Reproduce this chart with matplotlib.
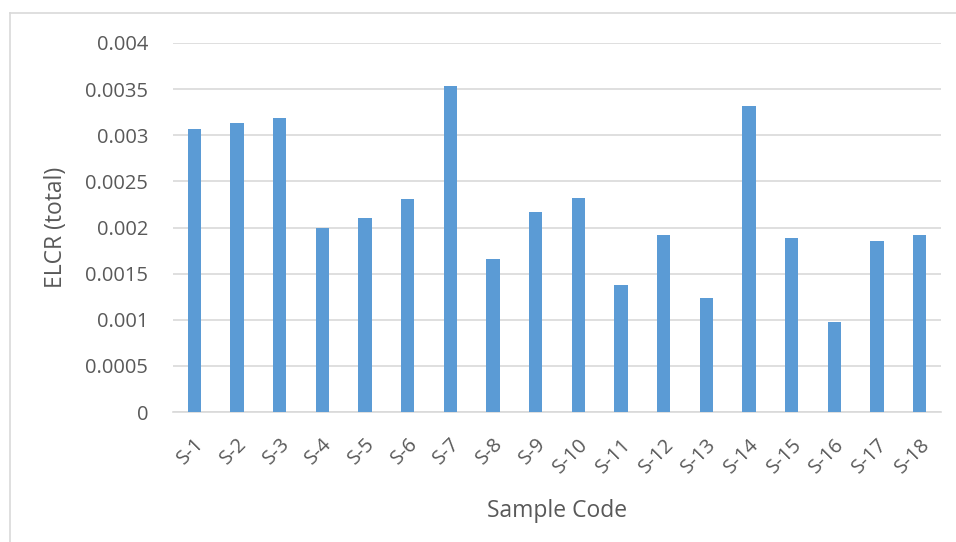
import numpy as np
import matplotlib.pyplot as plt

samples = ['S-1', 'S-2', 'S-3', 'S-4', 'S-5', 'S-6', 'S-7', 'S-8', 'S-9',
           'S-10', 'S-11', 'S-12', 'S-13', 'S-14', 'S-15', 'S-16', 'S-17', 'S-18']
elcr = [0.00307, 0.00313, 0.00319, 0.00200, 0.00210, 0.00231, 0.00353, 0.00166, 0.00217,
        0.00232, 0.00138, 0.00192, 0.00124, 0.00332, 0.00189, 0.00098, 0.00185, 0.00192]
yticks = [0, 0.0005, 0.001, 0.0015, 0.002, 0.0025, 0.003, 0.0035, 0.004]
ytick_labels = ['0', '0.0005', '0.001', '0.0015', '0.002', '0.0025', '0.003', '0.0035', '0.004']

plt.rcParams['font.family'] = ['Open Sans', 'DejaVu Sans']
txt = '#595959'

fig = plt.figure(figsize=(9.56, 5.42), dpi=100)
ax = fig.add_axes([173/956, 1 - 412/542, 768/956, 369/542])

# chart border (only top/left visible in the reference)
fig.add_artist(plt.Line2D([10/956, 10/956], [0, 1 - 13/542], color='#d9d9d9', lw=1.2))
fig.add_artist(plt.Line2D([10/956, 1], [1 - 13/542, 1 - 13/542], color='#d9d9d9', lw=1.2))

x = np.arange(len(samples))
ax.bar(x, elcr, width=0.31, color='#5b9bd5', zorder=3)

ax.set_xlim(-0.5, len(samples) - 0.5)
ax.set_ylim(0, 0.004)
ax.set_yticks(yticks)
ax.set_yticklabels(ytick_labels)
ax.yaxis.grid(True, color='#d9d9d9', lw=1.2, zorder=0)
for s in ['top', 'right', 'left']:
    ax.spines[s].set_visible(False)
ax.spines['bottom'].set_color('#d9d9d9')
ax.spines['bottom'].set_linewidth(1.2)
ax.tick_params(axis='both', length=0, labelsize=14.5, labelcolor=txt)
ax.tick_params(axis='y', pad=18)

ax.set_xticks(x)
ax.set_xticklabels(samples, rotation=45, ha='right', rotation_mode='anchor')
ax.tick_params(axis='x', pad=16)

ax.set_ylabel('ELCR (total)', fontsize=16.5, color=txt, labelpad=12)
ax.set_xlabel('Sample Code', fontsize=16.5, color=txt, labelpad=16)

fig.savefig('out.png', dpi=100)
